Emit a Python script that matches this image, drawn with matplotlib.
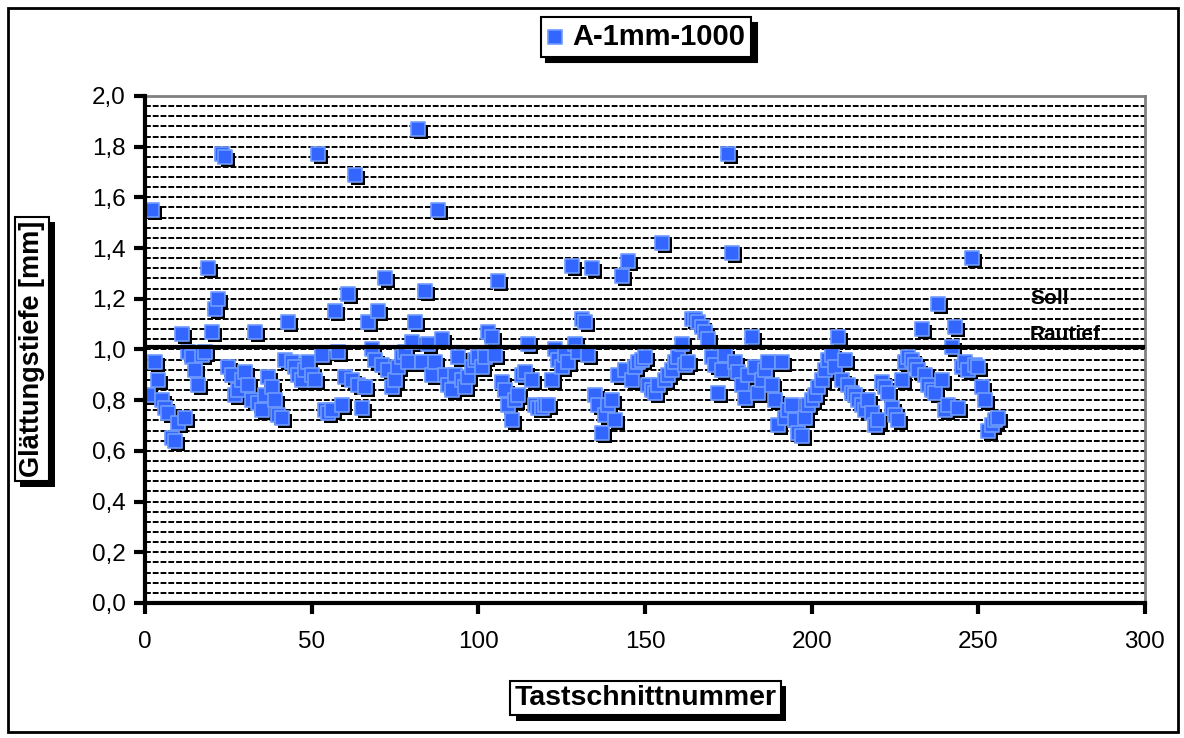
import numpy as np
import matplotlib
matplotlib.use("Agg")
import matplotlib.pyplot as plt
import matplotlib.patheffects as pe
from matplotlib.patches import Rectangle
from matplotlib.transforms import offset_copy
from matplotlib.ticker import FuncFormatter, MultipleLocator

plt.rcParams['font.family'] = ['Liberation Sans', 'DejaVu Sans']

# Tastschnittnummer 1..256, Werte
glaettungstiefe = [
    0.82, 1.55, 0.95, 0.88, 0.80, 0.77, 0.75, 0.65, 0.64, 0.71,
    1.06, 0.73, 0.99, 0.97, 0.92, 0.86, 0.98, 0.99, 1.32, 1.07,
    1.16, 1.20, 1.77, 1.76, 0.93, 0.90, 0.82, 0.84, 0.88, 0.91,
    0.86, 0.80, 1.07, 0.79, 0.76, 0.82, 0.89, 0.85, 0.80, 0.74,
    0.73, 0.96, 1.11, 0.95, 0.93, 0.90, 0.88, 0.92, 0.95, 0.90,
    0.88, 1.77, 0.98, 0.76, 0.75, 0.76, 1.15, 0.99, 0.78, 0.89,
    1.22, 0.88, 1.69, 0.86, 0.77, 0.85, 1.11, 1.00, 0.96, 1.15,
    0.94, 1.28, 0.92, 0.85, 0.88, 0.93, 0.97, 0.99, 0.95, 1.03,
    1.11, 1.87, 0.95, 1.23, 1.02, 0.90, 0.95, 1.55, 1.04, 0.90,
    0.86, 0.84, 0.90, 0.97, 0.88, 0.85, 0.89, 0.93, 0.96, 0.97,
    0.93, 0.97, 1.07, 1.05, 0.98, 1.27, 0.87, 0.84, 0.78, 0.72,
    0.80, 0.82, 0.90, 0.91, 1.02, 0.88, 0.78, 0.77, 0.77, 0.78,
    0.78, 0.88, 1.00, 0.96, 0.93, 0.98, 0.95, 1.33, 1.02, 0.99,
    1.12, 1.11, 0.98, 1.32, 0.82, 0.78, 0.67, 0.74, 0.78, 0.80,
    0.72, 0.90, 1.29, 0.92, 1.35, 0.88, 0.93, 0.95, 0.96, 0.97,
    0.86, 0.84, 0.83, 0.86, 1.42, 0.88, 0.90, 0.92, 0.95, 0.97,
    1.02, 0.94, 0.95, 1.12, 1.12, 1.11, 1.09, 1.07, 1.04, 0.97,
    0.94, 0.83, 0.92, 0.98, 1.77, 1.38, 0.95, 0.91, 0.86, 0.81,
    0.90, 1.05, 0.93, 0.83, 0.88, 0.92, 0.95, 0.86, 0.80, 0.70,
    0.95, 0.73, 0.76, 0.78, 0.72, 0.67, 0.66, 0.73, 0.78, 0.80,
    0.82, 0.85, 0.88, 0.92, 0.96, 0.98, 0.93, 1.05, 0.88, 0.96,
    0.86, 0.83, 0.82, 0.80, 0.78, 0.76, 0.80, 0.75, 0.70, 0.72,
    0.87, 0.85, 0.83, 0.77, 0.74, 0.72, 0.88, 0.95, 0.97, 0.96,
    0.94, 0.92, 1.08, 0.90, 0.86, 0.84, 0.83, 1.18, 0.88, 0.76,
    0.78, 1.01, 1.09, 0.77, 0.93, 0.95, 0.92, 1.36, 0.94, 0.93,
    0.85, 0.80, 0.68, 0.70, 0.72, 0.73,
]
tastschnitt = list(range(1, len(glaettungstiefe) + 1))
soll_rautief = 1.01
serie = 'A-1mm-1000'

fig = plt.figure(figsize=(11.84, 7.38), dpi=100)
ax = fig.add_axes([0.1225, 0.183, 0.8445, 0.687])

# Gitterlinien alle 0,04
for g in np.arange(0.04, 2.0, 0.04):
    ax.axhline(g, color='black', lw=1.4, ls=(0, (3, 1)), zorder=1)

# Marker mit Schatten
shadow = offset_copy(ax.transData, fig=fig, x=3, y=-3, units='dots')
ax.scatter(tastschnitt, glaettungstiefe, marker='s', s=115, color='black',
           transform=shadow, zorder=3, linewidths=0)
ax.scatter(tastschnitt, glaettungstiefe, marker='s', s=115, facecolor='#3366ff',
           edgecolor='#6f9bff', linewidths=1.2, zorder=4, label=serie)

ax.axhline(soll_rautief, color='black', lw=3, zorder=5)
ax.text(265.5, 1.2, 'Soll', fontsize=15, fontweight='bold', va='center', zorder=6)
ax.text(265.5, 1.06, 'Rautief', fontsize=15, fontweight='bold', va='center', zorder=6)

ax.set_xlim(0, 300)
ax.set_ylim(0, 2.0)
ax.xaxis.set_major_locator(MultipleLocator(50))
ax.yaxis.set_major_locator(MultipleLocator(0.2))
ax.yaxis.set_major_formatter(FuncFormatter(lambda v, p: f'{v:.1f}'.replace('.', ',')))
ax.tick_params(axis='both', direction='out', length=8, width=3, labelsize=17.5)
ax.tick_params(axis='x', pad=12)
ax.tick_params(axis='y', pad=6)
for s in ['left', 'bottom']:
    ax.spines[s].set_linewidth(3)
    ax.spines[s].set_zorder(7)
for s in ['top', 'right']:
    ax.spines[s].set_linewidth(2)
    ax.spines[s].set_color('#808080')

box = dict(boxstyle='square,pad=0.15', facecolor='white', edgecolor='black', lw=1.5)
shadow_fx = [pe.withSimplePatchShadow(offset=(4, -4), shadow_rgbFace='black', alpha=1.0)]

ty = fig.text(0.027, 0.527, 'Glättungstiefe [mm]', rotation=90, fontsize=19.5,
              fontweight='bold', ha='center', va='center', bbox=box)
ty.get_bbox_patch().set_path_effects(shadow_fx)
tx = fig.text(0.545, 0.054, 'Tastschnittnummer', fontsize=20.5,
              fontweight='bold', ha='center', va='center', bbox=box)
tx.get_bbox_patch().set_path_effects(shadow_fx)

leg = ax.legend(loc='center', bbox_to_anchor=(0.5456, 0.95), bbox_transform=fig.transFigure,
                fancybox=False, shadow={'color': 'black', 'alpha': 1.0, 'ox': 4, 'oy': -4},
                edgecolor='black', framealpha=1, handlelength=0.6, handletextpad=0.3,
                borderpad=0.2, markerscale=0.9, prop={'weight': 'bold', 'size': 21})
leg.get_frame().set_linewidth(1.5)

fig.patches.append(Rectangle((8 / 1184, 6 / 738), 1170 / 1184, 724 / 738,
                             transform=fig.transFigure, fill=False, lw=2, edgecolor='black'))

fig.savefig('out.png', dpi=100)
